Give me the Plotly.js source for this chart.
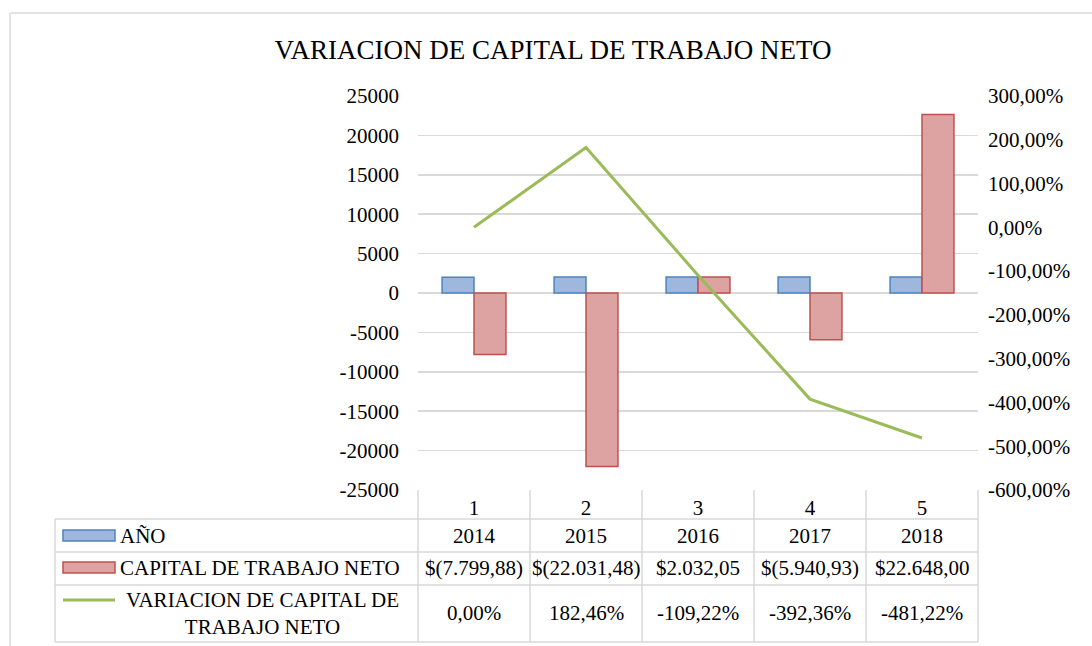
<!DOCTYPE html>
<html>
<head>
<meta charset="utf-8">
<script src="https://cdn.plot.ly/plotly-3.0.1.min.js"></script>
<style>html,body{margin:0;padding:0;background:#fff;}#chart{width:1092px;height:646px;}</style>
</head>
<body>
<div id="chart"></div>
<script>
// ---- data ----
const categories = ["1", "2", "3", "4", "5"];
const years = [2014, 2015, 2016, 2017, 2018];
const capital = [-7799.88, -22031.48, 2032.05, -5940.93, 22648.00];
const variation = [0.00, 182.46, -109.22, -392.36, -481.22];
const seriesNames = ["AÑO", "CAPITAL DE TRABAJO NETO", "VARIACION DE CAPITAL DE<br>TRABAJO NETO"];
const leftTicks = [25000, 20000, 15000, 10000, 5000, 0, -5000, -10000, -15000, -20000, -25000];
const rightTicks = [300, 200, 100, 0, -100, -200, -300, -400, -500, -600];

// ---- formatting helpers ----
function fmt2(v) {
  const s = Math.abs(v).toFixed(2).split(".");
  const intPart = s[0].replace(/\B(?=(\d{3})+(?!\d))/g, ".");
  return intPart + "," + s[1];
}
function money(v) { return v < 0 ? "$(" + fmt2(v) + ")" : "$" + fmt2(v); }
function pct(v) { return (v < 0 ? "-" : "") + fmt2(v) + "%"; }

// ---- geometry (pixels -> paper) ----
const W = 1092, H = 646;
const L = 418, R = 978, T = 96, B = 490;
const px = x => (x - L) / (R - L);
const py = y => (B - y) / (B - T);

const FONT = "Liberation Serif, Times New Roman, serif";
const GRID = "#D9D9D9";
const FS = 21;

const traces = [
  {
    type: "bar", x: categories, y: years, name: seriesNames[0], yaxis: "y",
    marker: { color: "#9DB8DC", line: { color: "#4F81BD", width: 1.5 } },
    hoverinfo: "skip"
  },
  {
    type: "bar", x: categories, y: capital, name: seriesNames[1], yaxis: "y",
    marker: { color: "#DCA3A2", line: { color: "#C0504D", width: 1.5 } },
    hoverinfo: "skip"
  },
  {
    type: "scatter", mode: "lines", x: categories, y: variation, name: seriesNames[2], yaxis: "y2",
    line: { color: "#9BBB59", width: 3 }, hoverinfo: "skip"
  }
];

// table lines
const shapes = [];
const lineStyle = { color: GRID, width: 1.5 };
// outer chart border
shapes.push({ type: "line", xref: "paper", yref: "paper", x0: px(10), x1: px(10), y0: py(646), y1: py(13), line: lineStyle });
shapes.push({ type: "line", xref: "paper", yref: "paper", x0: px(10), x1: px(1092), y0: py(13), y1: py(13), line: lineStyle });
// horizontal table lines
const rowLines = [519, 552, 585, 642];
rowLines.forEach(y => shapes.push({ type: "line", xref: "paper", yref: "paper", x0: px(55), x1: px(R), y0: py(y), y1: py(y), line: lineStyle }));
// vertical lines
shapes.push({ type: "line", xref: "paper", yref: "paper", x0: px(55), x1: px(55), y0: py(519), y1: py(642), line: lineStyle });
for (let i = 0; i <= categories.length; i++) {
  const xp = i / categories.length;
  shapes.push({ type: "line", xref: "paper", yref: "paper", x0: xp, x1: xp, y0: py(B), y1: py(642), line: lineStyle });
}
// legend keys
shapes.push({ type: "rect", xref: "paper", yref: "paper", x0: px(63), x1: px(115), y0: py(541), y1: py(530), fillcolor: "#9DB8DC", line: { color: "#4F81BD", width: 1.5 } });
shapes.push({ type: "rect", xref: "paper", yref: "paper", x0: px(63), x1: px(115), y0: py(573), y1: py(562), fillcolor: "#DCA3A2", line: { color: "#C0504D", width: 1.5 } });
shapes.push({ type: "line", xref: "paper", yref: "paper", x0: px(63), x1: px(115), y0: py(600), y1: py(600), line: { color: "#9BBB59", width: 3 } });

const annotations = [];
const tfont = { family: FONT, size: FS, color: "#000" };
// row labels
annotations.push({ xref: "paper", yref: "paper", x: px(118), y: py(536), xanchor: "left", yanchor: "middle", text: seriesNames[0], showarrow: false, font: tfont });
annotations.push({ xref: "paper", yref: "paper", x: px(118), y: py(568), xanchor: "left", yanchor: "middle", text: seriesNames[1], showarrow: false, font: tfont });
annotations.push({ xref: "paper", yref: "paper", x: px(262), y: py(613), xanchor: "center", yanchor: "middle", align: "center", text: seriesNames[2], showarrow: false, font: tfont });
// cell values
categories.forEach((c, i) => {
  const xc = (i + 0.5) / categories.length;
  annotations.push({ xref: "paper", yref: "paper", x: xc, y: py(536), xanchor: "center", yanchor: "middle", text: String(years[i]), showarrow: false, font: tfont });
  annotations.push({ xref: "paper", yref: "paper", x: xc, y: py(568), xanchor: "center", yanchor: "middle", text: money(capital[i]), showarrow: false, font: tfont });
  annotations.push({ xref: "paper", yref: "paper", x: xc, y: py(613), xanchor: "center", yanchor: "middle", text: pct(variation[i]), showarrow: false, font: tfont });
});

const layout = {
  width: W, height: H,
  margin: { l: L, r: W - R, t: T, b: H - B, pad: 0 },
  paper_bgcolor: "#fff", plot_bgcolor: "#fff",
  showlegend: false,
  barmode: "group", bargap: 0.43, bargroupgap: 0,
  font: { family: FONT, size: FS, color: "#000" },
  title: {
    text: "VARIACION DE CAPITAL DE TRABAJO NETO",
    font: { family: FONT, size: 27, color: "#000" },
    x: 553 / W, xanchor: "center", xref: "container",
    y: 1 - 50 / H, yanchor: "middle", yref: "container"
  },
  xaxis: {
    type: "category", range: [-0.5, categories.length - 0.5],
    showgrid: false, zeroline: false, showline: false, ticks: "",
    tickfont: { family: FONT, size: FS, color: "#000" },
    ticklabelstandoff: 3, fixedrange: true
  },
  yaxis: {
    range: [-25000, 25000], tickvals: leftTicks, ticktext: leftTicks.map(String),
    showgrid: true, gridcolor: GRID, gridwidth: 1.5,
    zeroline: true, zerolinecolor: GRID, zerolinewidth: 1.5,
    showline: false, ticks: "",
    tickfont: { family: FONT, size: FS, color: "#000" },
    ticklabelstandoff: 18, fixedrange: true
  },
  yaxis2: {
    overlaying: "y", side: "right", anchor: "x",
    range: [-600, 300], tickvals: rightTicks, ticktext: rightTicks.map(v => pct(v)),
    showgrid: false, zeroline: false, showline: false, ticks: "",
    tickfont: { family: FONT, size: FS, color: "#000" },
    ticklabelstandoff: 9, fixedrange: true
  },
  shapes: shapes,
  annotations: annotations
};

Plotly.newPlot("chart", traces, layout, { displayModeBar: false, staticPlot: true });
</script>
</body>
</html>
